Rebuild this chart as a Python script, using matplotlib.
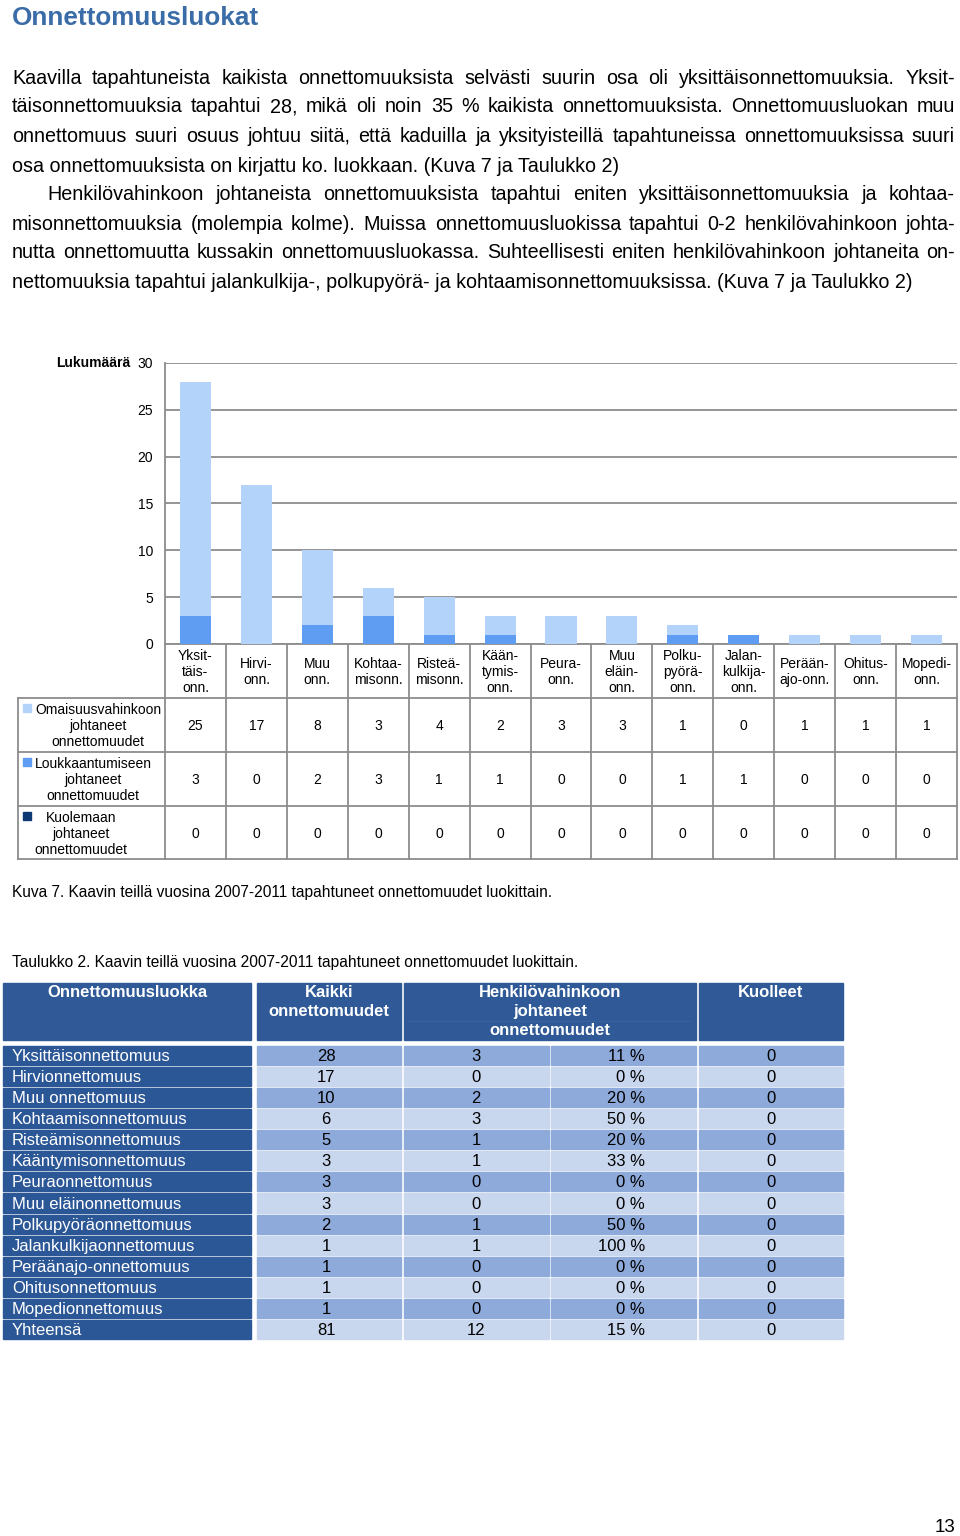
import matplotlib
matplotlib.use("Agg")
import matplotlib.pyplot as plt
import matplotlib.transforms as mtransforms
from matplotlib.patches import Rectangle

plt.rcParams['font.family'] = ['Liberation Sans', 'DejaVu Sans']

#%% data
title = "Onnettomuusluokat"
body_lines = [
    "Kaavilla tapahtuneista kaikista onnettomuuksista selvästi suurin osa oli yksittäisonnettomuuksia. Yksit-",
    "täisonnettomuuksia tapahtui 28, mikä oli noin 35 % kaikista onnettomuuksista. Onnettomuusluokan muu",
    "onnettomuus suuri osuus johtuu siitä, että kaduilla ja yksityisteillä tapahtuneissa onnettomuuksissa suuri",
    "osa onnettomuuksista on kirjattu ko. luokkaan. (Kuva 7 ja Taulukko 2)",
    "Henkilövahinkoon johtaneista onnettomuuksista tapahtui eniten yksittäisonnettomuuksia ja kohtaa-",
    "misonnettomuuksia (molempia kolme). Muissa onnettomuusluokissa tapahtui 0-2 henkilövahinkoon johta-",
    "nutta onnettomuutta kussakin onnettomuusluokassa. Suhteellisesti eniten henkilövahinkoon johtaneita on-",
    "nettomuuksia tapahtui jalankulkija-, polkupyörä- ja kohtaamisonnettomuuksissa. (Kuva 7 ja Taulukko 2)",
]
para_end = [False, False, False, True, False, False, False, True]
para_indent = [False, False, False, False, True, False, False, False]

categories = ["Yksit-\ntäis-\nonn.", "Hirvi-\nonn.", "Muu\nonn.", "Kohtaa-\nmisonn.",
              "Risteä-\nmisonn.", "Kään-\ntymis-\nonn.", "Peura-\nonn.", "Muu\neläin-\nonn.",
              "Polku-\npyörä-\nonn.", "Jalan-\nkulkija-\nonn.", "Perään-\najo-onn.",
              "Ohitus-\nonn.", "Mopedi-\nonn."]
omaisuus = [25, 17, 8, 3, 4, 2, 3, 3, 1, 0, 1, 1, 1]
loukkaantuminen = [3, 0, 2, 3, 1, 1, 0, 0, 1, 1, 0, 0, 0]
kuolema = [0, 0, 0, 0, 0, 0, 0, 0, 0, 0, 0, 0, 0]
series_names = ["Omaisuusvahinkoon\njohtaneet\nonnettomuudet",
                "Loukkaantumiseen\njohtaneet\nonnettomuudet",
                "Kuolemaan\njohtaneet\nonnettomuudet"]
y_ticks = [0, 5, 10, 15, 20, 25, 30]
y_label = "Lukumäärä"

caption_fig = "Kuva 7. Kaavin teillä vuosina 2007-2011 tapahtuneet onnettomuudet luokittain."
caption_tab = "Taulukko 2. Kaavin teillä vuosina 2007-2011 tapahtuneet onnettomuudet luokittain."

tab_headers = ["Onnettomuusluokka", "Kaikki\nonnettomuudet",
               "Henkilövahinkoon\njohtaneet\nonnettomuudet", "Kuolleet"]
tab_classes = ["Yksittäisonnettomuus", "Hirvionnettomuus", "Muu onnettomuus",
               "Kohtaamisonnettomuus", "Risteämisonnettomuus", "Kääntymisonnettomuus",
               "Peuraonnettomuus", "Muu eläinonnettomuus", "Polkupyöräonnettomuus",
               "Jalankulkijaonnettomuus", "Peräänajo-onnettomuus", "Ohitusonnettomuus",
               "Mopedionnettomuus", "Yhteensä"]
tab_all = [28, 17, 10, 6, 5, 3, 3, 3, 2, 1, 1, 1, 1, 81]
tab_injury = [3, 0, 2, 3, 1, 1, 0, 0, 1, 1, 0, 0, 0, 12]
tab_injury_pct = ["11 %", "0 %", "20 %", "50 %", "20 %", "33 %", "0 %", "0 %",
                  "50 %", "100 %", "0 %", "0 %", "0 %", "15 %"]
tab_dead = [0, 0, 0, 0, 0, 0, 0, 0, 0, 0, 0, 0, 0, 0]
page_number = "13"

#%% colours
c_light = "#B4D3FB"
c_mid = "#5F9DF2"
c_dark = "#0D3A75"
c_grid = "#8C8C8C"
c_head = "#2F5A97"
c_rowhead = "#2C5796"
c_cell_a = "#8EAADB"
c_cell_b = "#C8D6EE"

fig = plt.figure(figsize=(9.6, 15.36), dpi=100)
pg = fig.add_axes([0, 0, 1, 1])
pg.set_xlim(0, 960)
pg.set_ylim(1536, 0)
pg.axis("off")
renderer = fig.canvas.get_renderer()


def text_width(s, **kw):
    t = pg.text(0, 0, s, **kw)
    w = t.get_window_extent(renderer).width
    t.remove()
    return w


# title
pg.text(12, 18, title, fontsize=18.8, fontweight="bold", color="#3A6CA7", va="center")

# body text, justified
body_size = 10 * 901 / text_width(body_lines[7], fontsize=10)
y_lines = [78, 107, 136, 166, 195, 224, 253, 283]
for line, y, last, indent in zip(body_lines, y_lines, para_end, para_indent):
    x0 = 47 if indent else 12
    if last:
        pg.text(x0, y, line, fontsize=body_size, va="center")
        continue
    words = line.split(" ")
    widths = [text_width(w, fontsize=body_size) for w in words]
    gap = (955 - x0 - sum(widths)) / (len(words) - 1)
    x = x0
    for w, wd in zip(words, widths):
        pg.text(x, y, w, fontsize=body_size, va="center")
        x += wd + gap

#%% bar chart
fs = 10
ax = fig.add_axes([165 / 960, 1 - 644 / 1536, (957 - 165) / 960, (644 - 363) / 1536])
x = list(range(len(categories)))
bw = 0.51
ax.bar(x, kuolema, bw, color=c_dark, zorder=3)
ax.bar(x, loukkaantuminen, bw, bottom=kuolema, color=c_mid, zorder=3)
bott = [a + b for a, b in zip(kuolema, loukkaantuminen)]
ax.bar(x, omaisuus, bw, bottom=bott, color=c_light, zorder=3)
ax.set_xlim(-0.5, len(categories) - 0.5)
ax.set_ylim(0, 30)
ax.set_yticks(y_ticks)
ax.set_xticks([])
ax.yaxis.grid(True, color=c_grid, lw=1.3, zorder=0)
ax.tick_params(axis="y", length=0, pad=8.5, labelsize=fs)
for s in ["top", "right"]:
    ax.spines[s].set_visible(False)
for s in ["left", "bottom"]:
    ax.spines[s].set_color(c_grid)
    ax.spines[s].set_linewidth(1.3)
pg.text(130, 363, y_label, fontsize=fs, fontweight="bold", ha="right", va="center")

# data table under the chart
bt = mtransforms.blended_transform_factory(ax.transData, pg.transData)
row_edges = [698, 752, 806, 859]
for i in range(len(categories) + 1):
    pg.plot([i - 0.5, i - 0.5], [644, 859], color=c_grid, lw=1.3, transform=bt)
for ye in row_edges:
    pg.plot([18, 957], [ye, ye], color=c_grid, lw=1.3)
pg.plot([18, 18], [698, 859], color=c_grid, lw=1.3)
for i, cat in enumerate(categories):
    pg.text(i, 672, cat, transform=bt, ha="center", va="center", fontsize=fs,
            linespacing=1.22)
series_vals = [omaisuus, loukkaantuminen, kuolema]
series_cols = [c_light, c_mid, c_dark]
leg_centers = [98, 93, 81]
for r, (name, vals, col, xc) in enumerate(zip(series_names, series_vals, series_cols, leg_centers)):
    top = row_edges[r]
    yc = top + 28
    pg.add_patch(Rectangle((23, top + 6), 8, 8, color=col))
    pg.text(xc, yc, name, ha="center", va="center", fontsize=fs, linespacing=1.22)
    for i, v in enumerate(vals):
        pg.text(i, yc, str(v), transform=bt, ha="center", va="center", fontsize=fs)

pg.text(12, 892, caption_fig, fontsize=11.2, va="center")
pg.text(12, 963, caption_tab, fontsize=11.2, va="center")

#%% table 2
tfs = 12
col_x = [(3, 251), (257, 401), (404, 696), (699, 843)]
for (xa, xb), h in zip(col_x, tab_headers):
    pg.add_patch(Rectangle((xa, 983), xb - xa, 57, color=c_head))
    pg.text((xa + xb) / 2, 985, h, ha="center", va="top", fontsize=tfs,
            fontweight="bold", color="white", linespacing=1.35)
pg.plot([406, 690], [1021, 1021], color="#3C66A2", lw=0.5)

cell_x = [(257, 401), (404, 549), (551, 696), (699, 843)]
row_h = 21.07
for r, name in enumerate(tab_classes):
    yt = 1046 + r * row_h
    yc = yt + row_h / 2
    pg.add_patch(Rectangle((3, yt), 248, row_h - 2, color=c_rowhead))
    col = c_cell_a if r % 2 == 0 else c_cell_b
    for xa, xb in cell_x:
        pg.add_patch(Rectangle((xa, yt), xb - xa, row_h - 2, color=col))
    pg.text(12, yc, name, fontsize=tfs, color="white", va="center")
    pg.text(326, yc, str(tab_all[r]), fontsize=tfs, ha="center", va="center")
    pg.text(476, yc, str(tab_injury[r]), fontsize=tfs, ha="center", va="center")
    pg.text(645, yc, tab_injury_pct[r], fontsize=tfs, ha="right", va="center")
    pg.text(771, yc, str(tab_dead[r]), fontsize=tfs, ha="center", va="center")

pg.text(945, 1527, page_number, fontsize=13.5, ha="center", va="center")

fig.savefig("out.png", dpi=100)
